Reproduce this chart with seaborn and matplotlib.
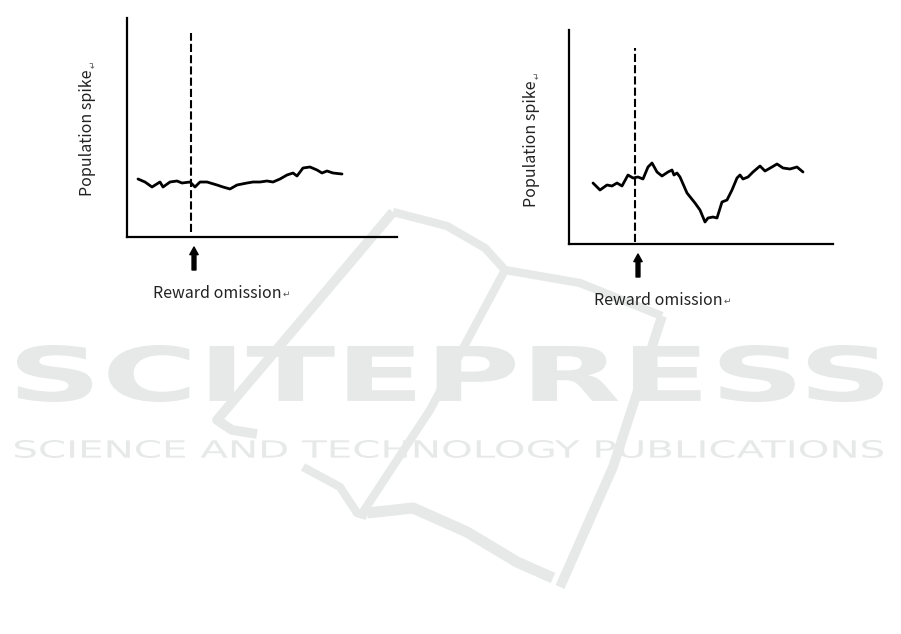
import numpy as np
import pandas as pd
import matplotlib
matplotlib.use("Agg")
import matplotlib.pyplot as plt
from matplotlib.textpath import TextPath
from matplotlib.font_manager import FontProperties
from matplotlib.patches import PathPatch
from matplotlib.transforms import Affine2D
from matplotlib.lines import Line2D
import seaborn as sns

# left panel: population spike, unchanged after reward omission
left_t = [11, 18, 25, 33, 36, 43, 50, 55, 63, 68, 73, 80, 90, 96, 103, 110,
          120, 126, 133, 140, 146, 153, 160, 166, 170, 176, 183, 190, 195,
          200, 206, 215]
left_v = [58, 55, 50, 55, 50, 55, 56, 54, 55, 50, 55, 55, 52, 50, 48, 52,
          54, 55, 55, 56, 55, 58, 62, 64, 61, 69, 70, 67, 64, 66, 64, 63]

# right panel: population spike dips after reward omission
right_t = [24, 31, 38, 43, 48, 53, 59, 64, 69, 74, 79, 83, 88, 93, 99, 103,
           105, 108, 111, 118, 126, 131, 136, 139, 144, 148, 153, 158, 163,
           168, 171, 174, 179, 184, 191, 196, 203, 208, 214, 221, 228, 234]
right_v = [61, 54, 59, 58, 61, 58, 69, 66, 67, 65, 77, 81, 72, 68, 72, 74,
           69, 71, 67, 51, 41, 34, 22, 26, 27, 26, 42, 44, 54, 66, 69, 65,
           67, 72, 78, 73, 77, 80, 76, 75, 77, 72]

# reward omission time and extent of the dashed marker
left_event = 64
left_event_span = (5, 204)
right_event = 66
right_event_span = (2, 196)

ylabel = "Population spike"
xlabel = "Reward omission"

W, H = 901, 634
WM = "#e7e9e9"

sns.set_style("white")
plt.rcParams["font.family"] = ["Noto Sans CJK SC", "DejaVu Sans"]

fig = plt.figure(figsize=(W / 100, H / 100), dpi=100)


def px_box(x0, y0, x1, y1):
    return [x0 / W, (H - y1) / H, (x1 - x0) / W, (y1 - y0) / H]


def stretched_text(s, x0, y0, x1, y1, weight):
    tp = TextPath((0, 0), s, prop=FontProperties(family="DejaVu Sans", weight=weight))
    e = tp.get_extents()
    tr = (Affine2D().translate(-e.x0, -e.y0)
          .scale((x1 - x0) / W / e.width, (y1 - y0) / H / e.height)
          .translate(x0 / W, (H - y1) / H))
    fig.add_artist(PathPatch(tr.transform_path(tp), fc=WM, ec="none",
                             transform=fig.transFigure, zorder=0))


# watermark (publisher logo behind the figure)
stretched_text("SCITEPRESS", 17, 345, 883, 402, "bold")
stretched_text("SCIENCE AND TECHNOLOGY PUBLICATIONS", 15, 440, 883, 458, "normal")
strokes = [
    ([(393, 212), (300, 322), (217, 420), (232, 430), (257, 434)], 7),
    ([(393, 212), (447, 226), (485, 248), (505, 270)], 6),
    ([(505, 270), (580, 283), (662, 316)], 6),
    ([(662, 316), (613, 467), (560, 587)], 7),
    ([(367, 513), (413, 508), (467, 532), (517, 562), (553, 578)], 8),
    ([(303, 467), (340, 487), (357, 513), (367, 516)], 6),
    ([(505, 270), (430, 410), (363, 512)], 6),
]
for s, w in strokes:
    xs = [p[0] / W for p in s]
    ys = [(H - p[1]) / H for p in s]
    fig.add_artist(Line2D(xs, ys, color=WM, lw=w, solid_capstyle="butt",
                          solid_joinstyle="round",
                          transform=fig.transFigure, zorder=0))


def panel(box, t, v, event, span, xlim, ylim, label_xy, ylabel_xy):
    ax = fig.add_axes(box)
    ax.set_facecolor("none")
    sns.lineplot(x=t, y=v, ax=ax, color="black", lw=2.0)
    ax.vlines(event, span[0], span[1], colors="black", lw=1.5,
              linestyles=(0, (3.9, 1.5)))
    ax.set_xlim(*xlim)
    ax.set_ylim(*ylim)
    sns.despine(ax=ax)
    for sp in ("left", "bottom"):
        ax.spines[sp].set_color("black")
        ax.spines[sp].set_linewidth(1.6)
    ax.set_xticks([])
    ax.set_yticks([])
    ax.annotate("", xy=(event + 3, -10), xytext=(event + 3, -33),
                arrowprops=dict(arrowstyle="simple,head_width=0.6,head_length=0.55,tail_width=0.28",
                                color="black", mutation_scale=10, shrinkA=0, shrinkB=0),
                annotation_clip=False)
    tx = ax.text(label_xy[0], label_xy[1], xlabel, ha="center", va="center",
                 fontsize=11.5, color="#222222")
    ax.annotate("\u21b5", xy=(1, 0.15), xycoords=tx, xytext=(1, 0),
                textcoords="offset points", fontsize=6.5, color="#555555",
                ha="left", va="bottom")
    ty = ax.text(ylabel_xy[0], ylabel_xy[1], ylabel, ha="center", va="center",
                 rotation=90, fontsize=11.5, color="#222222")
    ax.annotate("\u21b5", xy=(0.8, 1), xycoords=ty, xytext=(0, 1),
                textcoords="offset points", fontsize=6.5, color="#555555",
                ha="center", va="bottom", rotation=90)
    return ax


panel(px_box(127, 18, 397, 237), left_t, left_v, left_event, left_event_span,
      (0, 270), (0, 219), (90, -56), (-39, 104))
panel(px_box(569, 30, 833, 244), right_t, right_v, right_event, right_event_span,
      (0, 264), (0, 214), (89, -56), (-37, 100))

fig.savefig("out.png", dpi=100, facecolor="white")
